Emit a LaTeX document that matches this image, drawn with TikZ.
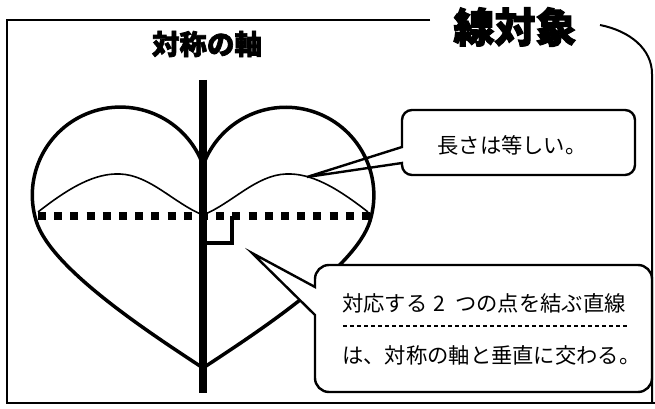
\documentclass[tikz,border=0pt]{standalone}
\usepackage{fontspec}
\newfontfamily\cjk{Noto Sans CJK JP}
\newfontfamily\cjkheavy[BoldFeatures={FakeBold=2.5}]{Noto Sans CJK JP}
\begin{document}
\begin{tikzpicture}[x=1pt,y=1pt,
  heartline/.style={line width=3.5pt, line join=round, line cap=round},
  waveline/.style={line width=1.6pt},
  axisline/.style={line width=8pt},
  pairline/.style={line width=7.5pt, dash pattern=on 8pt off 8.2pt},
  rightmark/.style={line width=3.5pt},
  callout/.style={line width=2.4pt, line join=miter},
  frameline/.style={line width=2pt},
  boxtext/.style={font=\cjk\fontsize{21.3pt}{24pt}\selectfont, inner sep=0pt},
  titletext/.style={font=\cjkheavy\bfseries\fontsize{27.5pt}{30pt}\selectfont, inner sep=0pt},
  bigtitle/.style={font=\cjkheavy\bfseries\fontsize{41pt}{46pt}\selectfont, inner sep=0pt},
  underdash/.style={line width=1.3pt, dash pattern=on 4pt off 3pt}
]
\useasboundingbox (0,0) rectangle (655,409);
% outer frame
\coordinate (ftl) at (7,389);
\coordinate (ftr) at (430,389);
\coordinate (fbl) at (7,6);
\coordinate (fbr) at (655,6);
\coordinate (fcs) at (600,384);
\coordinate (fce) at (652,335);
\coordinate (fre) at (652,6);
\draw[frameline] (ftr) -- (ftl) -- (fbl) -- (fbr);
\draw[frameline] (fcs) .. controls (630,378) and (652,360) .. (fce) -- (fre);

% titles
\node[bigtitle] (maintitle) at (515,382) {線対象};
\node[titletext] (axistitle) at (207,365) {対称の軸};

% heart
\coordinate (cusp) at (203,244);
\coordinate (bottom) at (203,41);
\draw[heartline] (cusp) arc[start angle=20, end angle=197, radius=88]
  .. controls (50.5,140) and (153,74) .. (bottom)
  .. controls (253,74) and (355.5,140) .. (370,188)
  arc[start angle=-17, end angle=160, radius=88];

% wave
\coordinate (wl) at (38,197);
\coordinate (wr) at (368,197);
\coordinate (wm) at (203,194);
\draw[waveline] (wl) .. controls (70,222) and (95,236) .. (120,235)
  .. controls (150,234) and (175,205) .. (wm)
  .. controls (231,205) and (256,234) .. (286,235)
  .. controls (311,236) and (336,222) .. (wr);

% dashed pair line
\coordinate (dl) at (38,193);
\coordinate (dr) at (372,193);
\draw[pairline] (dl) -- (dr);

% axis
\coordinate (axtop) at (203,329);
\coordinate (axbot) at (203,16);
\draw[axisline] (axtop) -- (axbot);

% right angle mark
\coordinate (ra1) at (232,193);
\coordinate (ra2) at (232,166);
\coordinate (ra3) at (206,166);
\draw[rightmark] (ra1) -- (ra2) -- (ra3);

% callout 1
\coordinate (tip1) at (307,232);
\draw[callout] (402,246) -- (402,244) arc[start angle=180,end angle=270,radius=10]
  -- (625,234) arc[start angle=270,end angle=360,radius=10]
  -- (635,289) arc[start angle=0,end angle=90,radius=10]
  -- (412,299) arc[start angle=90,end angle=180,radius=10]
  -- (402,262) -- (tip1) -- cycle;
\node[boxtext] (t1) at (512,264) {長さは等しい。};

% callout 2
\coordinate (tip2) at (252,156);
\draw[callout, fill=white] (315,94) -- (315,31) arc[start angle=180,end angle=270,radius=14]
  -- (638,17) arc[start angle=270,end angle=360,radius=14]
  -- (652,130) arc[start angle=0,end angle=90,radius=14]
  -- (329,144) arc[start angle=90,end angle=180,radius=14]
  -- (315,122) -- (tip2) -- cycle;
\node[boxtext, anchor=west] (t2) at (342,106) {対応する\hspace{6pt}2\hspace{10pt}つの点を結ぶ直線};
\node[boxtext, anchor=west] (t3) at (342,54) {は、対称の軸と垂直に交わる。};
\coordinate (ul) at (343,83);
\coordinate (ur) at (627,83);
\draw[underdash] (ul) -- (ur);
\end{tikzpicture}
\end{document}
